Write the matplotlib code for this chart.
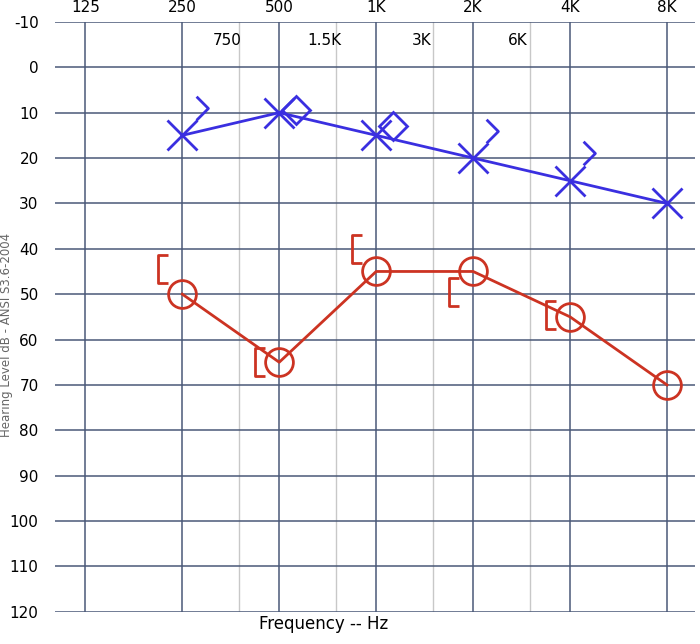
import numpy as np
import matplotlib
matplotlib.use('Agg')
import matplotlib.pyplot as plt
from matplotlib.path import Path

# audiogram data
freqs = [250, 500, 1000, 2000, 4000, 8000]
air_x = [15, 10, 15, 20, 25, 30]        # blue X
air_o = [50, 65, 45, 45, 55, 70]        # red O
bone_blue_db = [9, 9.5, 13, 14, 19]
bone_blue_kind = ['chev', 'diam', 'diam', 'chev', 'chev']
bone_red_db = [44.5, 65, 40, 49.5, 54.5]

octave_labels = ['125', '250', '500', '1K', '2K', '4K', '8K']
mid_labels = ['750', '1.5K', '3K', '6K']
yticks = list(range(-10, 121, 10))

def oct_pos(f):
    return np.log2(np.asarray(f, dtype=float) / 125.0)

bracket = Path([(0.35, -1), (-0.35, -1), (-0.35, 1), (0.35, 1)],
               [Path.MOVETO, Path.LINETO, Path.LINETO, Path.LINETO])
chevron = Path([(-0.5, 1), (0.5, 0), (-0.5, -1)],
               [Path.MOVETO, Path.LINETO, Path.LINETO])

fig = plt.figure(figsize=(7, 6.44), dpi=100)
ax = fig.add_axes([0.079, 0.05, 0.914, 0.916])

xs = oct_pos(freqs)
ax.set_xlim(-0.31, 6.29)
ax.set_ylim(120, -10)

# grid lines
for i in range(7):
    ax.axvline(i, color='#4a5878', lw=1.1, zorder=1)
for i in range(4):
    ax.axvline(i + 1 + np.log2(1.5), color='#c8c8c8', lw=1.0, zorder=1)
for y in yticks:
    ax.axhline(y, color='#4a5878', lw=1.1, zorder=1)

blue = '#3a2fe0'
red = '#cc3322'
ax.plot(xs, air_x, color=blue, lw=2, marker='x', ms=22, mew=2, zorder=3)
ax.plot(xs, air_o, color=red, lw=2, marker='o', ms=20, mew=2,
        mfc='none', zorder=3)

for x, y, k in zip(xs[:5], bone_blue_db, bone_blue_kind):
    if k == 'chev':
        ax.plot(x + 0.2, y, marker=chevron, ms=17, mew=2, color=blue,
                mfc='none', ls='none', zorder=3)
    else:
        ax.plot(x + 0.17, y, marker='D', ms=14, mew=2, color=blue,
                mfc='none', ls='none', zorder=3)
for x, y in zip(xs[:5], bone_red_db):
    ax.plot(x - 0.2, y, marker=bracket, ms=20, mew=2, color=red,
            mfc='none', ls='none', zorder=3)

# labels
ax.set_yticks(yticks)
ax.set_yticklabels([str(v) for v in yticks], fontsize=11)
ax.tick_params(axis='y', length=0, pad=12)
ax.set_xticks([])
for i, lab in enumerate(octave_labels):
    ax.text(i, -11.5, lab, ha='center', va='bottom', fontsize=11)
for i, lab in enumerate(mid_labels):
    ax.text(i + 1 + np.log2(1.5) - 0.12, -6, lab, ha='center', va='center',
            fontsize=11)
for s in ax.spines.values():
    s.set_visible(False)

ax.set_ylabel('Hearing Level dB - ANSI S3.6-2004', fontsize=8.5, color='#666666',
              labelpad=0)
ax.yaxis.set_label_coords(-0.066, 0.47)
ax.set_xlabel('Frequency -- Hz', fontsize=12, labelpad=2)
ax.xaxis.set_label_coords(0.42, -0.005)

fig.savefig('out.png', dpi=100)
